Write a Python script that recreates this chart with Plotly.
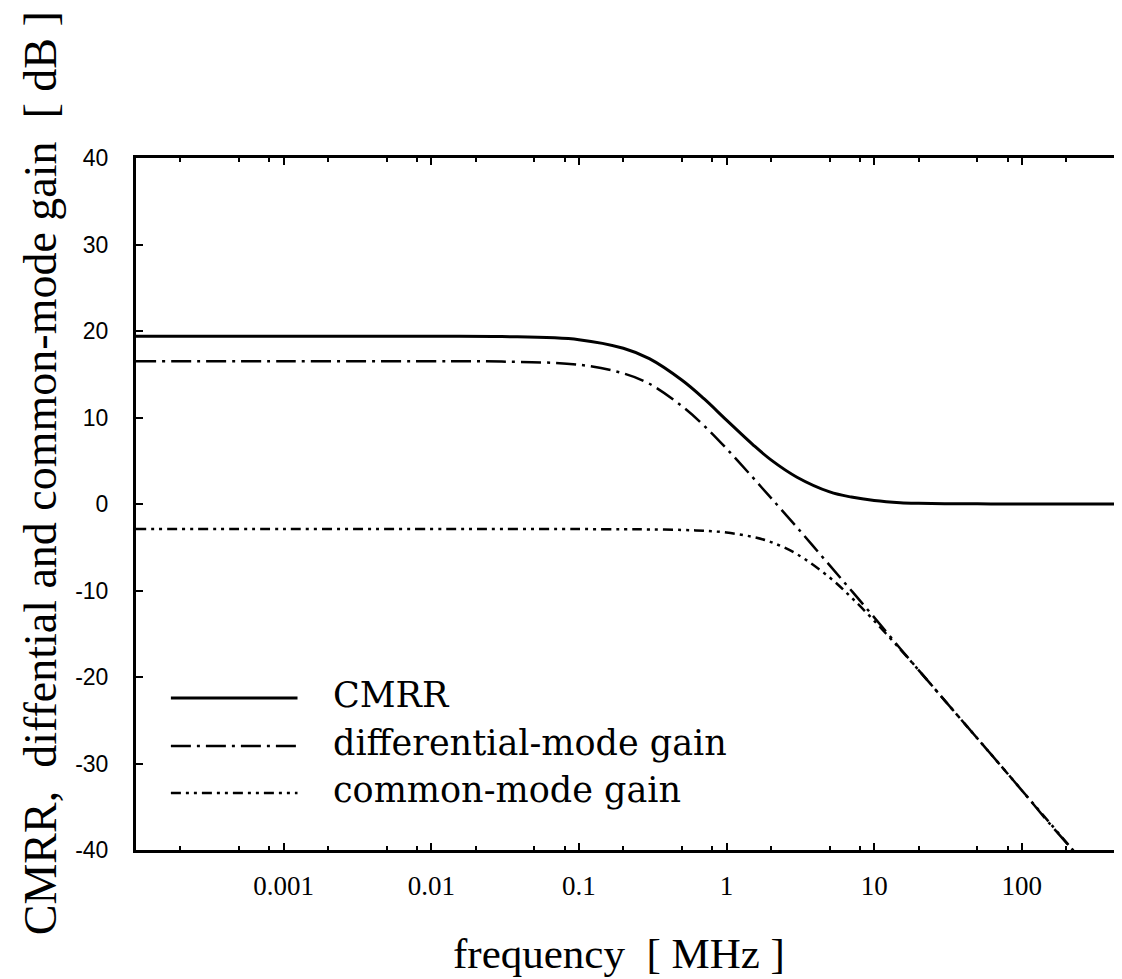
import plotly.graph_objects as go

# frequency [MHz]
freq = [0.0001, 0.001, 0.01, 0.03, 0.1, 0.2, 0.3, 0.5, 0.7, 1, 1.5, 2, 3, 5, 7,
        10, 15, 20, 30, 50, 70, 100, 150, 224]
freq_cmrr = freq[:-1] + [224, 300, 500]

cmrr = [19.4, 19.4, 19.4, 19.36, 19.0, 18.0, 16.8, 14.3, 12.2, 9.7, 6.9, 5.1, 3.1, 1.4, 0.8,
        0.4, 0.15, 0.08, 0.04, 0.02, 0.01, 0.0, 0.0, 0.0, 0.0, 0.0]
diff_gain = [16.5, 16.5, 16.5, 16.46, 16.1, 15.1, 13.9, 11.3, 9.1, 6.4, 3.1, 0.7, -2.7, -7.1, -10.0,
             -13.1, -16.7, -19.2, -22.7, -27.1, -30.0, -33.1, -36.7, -40.1]
cm_gain = [-2.9, -2.9, -2.9, -2.9, -2.9, -2.92, -2.94, -3.0, -3.1, -3.3, -3.8, -4.4, -5.8, -8.5, -10.8,
           -13.5, -16.8, -19.2, -22.7, -27.1, -30.0, -33.1, -36.6, -40.1]

x_tickvals = [0.001, 0.01, 0.1, 1, 10, 100]
x_ticktext = ["0.001", "0.01", "0.1", "1", "10", "100"]
y_tickvals = [40, 30, 20, 10, 0, -10, -20, -30, -40]
y_ticktext = ["40", "30", "20", "10", "0", "-10", "-20", "-30", "-40"]

legend_names = ["CMRR", "differential-mode gain", "common-mode gain"]

DIFF_DASH = "20px,6px,3px,6px"
CM_DASH = "10px,5px,3px,5px,3px,5px"

fig = go.Figure()
fig.add_trace(go.Scatter(x=freq_cmrr, y=cmrr, mode="lines", line=dict(color="black", width=3),
                         line_shape="spline", showlegend=False))
fig.add_trace(go.Scatter(x=freq, y=diff_gain, mode="lines",
                         line=dict(color="black", width=2.5, dash=DIFF_DASH),
                         line_shape="spline", showlegend=False))
fig.add_trace(go.Scatter(x=freq, y=cm_gain, mode="lines",
                         line=dict(color="black", width=2.5, dash=CM_DASH),
                         line_shape="spline", showlegend=False))

# plot area pixel geometry
L, R, T, B = 128, 1120, 150, 842
W, H = R - L, B - T

def px(xp):
    return (xp - L) / W

def py(yp):
    return (B - yp) / H

# legend (drawn as shapes + annotations)
rows = [690, 738, 785]
dashes = ["solid", DIFF_DASH, CM_DASH]
widths = [3, 2.5, 2.5]
shapes = []
annotations = []
for name, yy, d, w in zip(legend_names, rows, dashes, widths):
    shapes.append(dict(type="line", xref="paper", yref="paper", x0=px(163), x1=px(290),
                       y0=py(yy), y1=py(yy), line=dict(color="black", width=w, dash=d)))
    annotations.append(dict(text=name, xref="paper", yref="paper", x=px(324), y=py(yy - 3),
                            xanchor="left", yanchor="middle", showarrow=False,
                            font=dict(family="DejaVu Serif", size=35, color="black")))

annotations.append(dict(text="CMRR,  diffential and common-mode gain  [ dB ]", xref="paper",
                        yref="paper", x=px(32), y=py(465), textangle=-90, showarrow=False,
                        xanchor="center", yanchor="middle",
                        font=dict(family="Liberation Serif", size=46, color="black")))
annotations.append(dict(text="frequency  [ MHz ]", xref="paper", yref="paper", x=px(612),
                        y=py(945), showarrow=False, xanchor="center", yanchor="middle",
                        font=dict(family="Liberation Serif", size=43, color="black")))

minor_vals = []
for e in range(-4, 3):
    for m in (2, 5, 8):
        minor_vals.append(m * 10 ** e)

fig.update_layout(
    width=1122, height=979,
    margin=dict(l=L, r=1122 - R, t=T, b=979 - B),
    paper_bgcolor="white", plot_bgcolor="white",
    shapes=shapes, annotations=annotations,
    showlegend=False,
)
fig.update_xaxes(type="log", range=[-4, 2.699], showgrid=False, zeroline=False,
                 showline=True, linecolor="black", linewidth=3, mirror="allticks",
                 ticks="inside", ticklen=7, tickwidth=2, tickcolor="black",
                 tickvals=x_tickvals, ticktext=x_ticktext, ticklabelstandoff=10,
                 tickfont=dict(family="Liberation Serif", size=27, color="black"),
                 minor=dict(tickvals=minor_vals, ticks="inside", ticklen=4, tickwidth=2,
                            tickcolor="black", showgrid=False))
fig.update_yaxes(range=[-40, 40], showgrid=False, zeroline=False,
                 showline=True, linecolor="black", linewidth=3, mirror="allticks",
                 ticks="inside", ticklen=7, tickwidth=2, tickcolor="black",
                 tickvals=y_tickvals, ticktext=y_ticktext, ticklabelstandoff=20,
                 tickfont=dict(family="Liberation Sans", size=23, color="black"))

fig.write_html("out.html")
